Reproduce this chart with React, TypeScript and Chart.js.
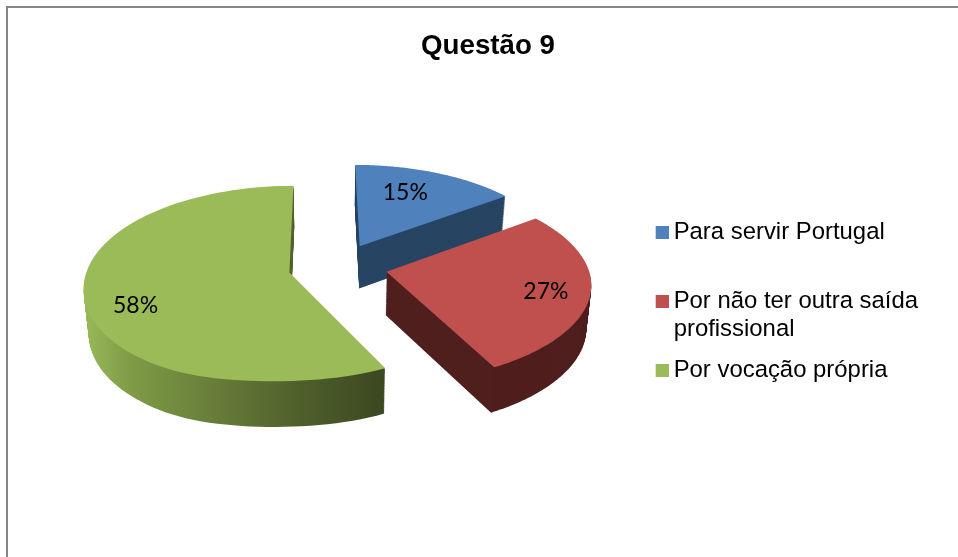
import React, { useEffect, useRef } from "react";
import { Chart, registerables } from "chart.js";

Chart.register(...registerables);

const categories = ["Para servir Portugal", "Por não ter outra saída profissional", "Por vocação própria"];
const legendLines = [["Para servir Portugal", ""], ["Por não ter outra saída", "profissional"], ["Por vocação própria"]];
const shares = [15, 27, 58];
const faceColors = ["#4F81BD", "#C0504D", "#9BBB59"];
const wallColors = ["#284563", "#4F1F1E", "green"];
const labelReach = [0.62, 0.79, 0.78];
const labelNudge = [[-4, -6], [-1, 3], [5, 14]];

const KX = 1.092;
const KY = 0.52;
const PERSP = 0.1228;
const DEPTH = 43;
const SHIFT_X = -10.5;
const SHIFT_Y = -36.5;

function project(X: number, Y: number, cx: number, cy: number, R: number) {
  const w = 1 - PERSP * Y;
  const front = Math.max(0, Y - 0.92);
  return {
    x: cx + (R * KX * X) / w - (Y > 0 ? 9 : 1.5) * Y * Y,
    y: cy + (R * KY * Y) / w - 120 * front * front,
  };
}

const pie3d = {
  id: "pie3d",
  beforeDatasetsDraw(chart: any) {
    const ctx = chart.ctx;
    const arcs = chart.getDatasetMeta(0).data;
    arcs.forEach((arc: any, i: number) => {
      const R = arc.outerRadius;
      const cx = arc.x + SHIFT_X;
      const cy = arc.y + SHIFT_Y;
      const mid = (arc.startAngle + arc.endAngle) / 2;
      const d = arc.options.offset / 2 / R;
      const ox = Math.cos(mid) * d;
      const oy = Math.sin(mid) * d;
      const unit: [number, number][] = [[ox, oy]];
      const steps = 96;
      for (let s = 0; s <= steps; s++) {
        const a = arc.startAngle + ((arc.endAngle - arc.startAngle) * s) / steps;
        unit.push([ox + Math.cos(a), oy + Math.sin(a)]);
      }
      const pts = unit.map(([X, Y]) => ({ ...project(X, Y, cx, cy, R), Y }));
      const path = (t: number) => {
        ctx.beginPath();
        pts.forEach((p, k) => {
          const h = (DEPTH + 2.5 * p.Y) * t;
          const x = cx + (p.x - cx) * (1 - 0.02 * t);
          if (k === 0) ctx.moveTo(x, p.y + h);
          else ctx.lineTo(x, p.y + h);
        });
        ctx.closePath();
      };
      let wall: any = wallColors[i];
      if (wall === "green") {
        const g = ctx.createLinearGradient(82, 0, 384, 0);
        g.addColorStop(0, "#9BBB59");
        g.addColorStop(0.16, "#7F9B46");
        g.addColorStop(0.72, "#4F5F2C");
        g.addColorStop(1, "#3B4820");
        wall = g;
      }
      ctx.save();
      ctx.fillStyle = wall;
      for (let t = 1; t > 0; t -= 0.02) {
        path(t);
        ctx.fill();
      }
      ctx.fillStyle = arc.options.backgroundColor;
      path(0);
      ctx.fill();
      ctx.restore();
    });
    arcs.forEach((arc: any, i: number) => {
      const R = arc.outerRadius;
      const mid = (arc.startAngle + arc.endAngle) / 2;
      const d = arc.options.offset / 2 / R + labelReach[i];
      const p = project(Math.cos(mid) * d, Math.sin(mid) * d, arc.x + SHIFT_X, arc.y + SHIFT_Y, R);
      ctx.save();
      ctx.fillStyle = "#000";
      ctx.font = "23px Lato";
      ctx.textAlign = "center";
      ctx.textBaseline = "middle";
      ctx.fillText(`${shares[i]}%`, p.x + labelNudge[i][0], p.y + labelNudge[i][1]);
      ctx.restore();
    });
    return false;
  },
};

function swatch(color: string) {
  const c = document.createElement("canvas");
  c.width = 14;
  c.height = 13;
  const g = c.getContext("2d")!;
  g.fillStyle = color;
  g.fillRect(1, 0, 13, 13);
  return c;
}

export default function App() {
  const ref = useRef<HTMLCanvasElement>(null);
  useEffect(() => {
    const chart = new Chart(ref.current!, {
      type: "pie",
      data: {
        labels: categories,
        datasets: [{ data: shares, backgroundColor: faceColors, borderWidth: 0, offset: 90.8 }],
      },
      plugins: [pie3d],
      options: {
        responsive: false,
        animation: false,
        events: [],
        layout: { padding: { left: 48, right: 30, top: 0, bottom: 24 } },
        plugins: {
          tooltip: { enabled: false },
          title: {
            display: true,
            text: "Questão 9",
            color: "#000",
            font: { family: "Liberation Sans", size: 27.7, weight: "bold", lineHeight: 1.2 },
            padding: { top: 30, bottom: 10 },
          },
          legend: {
            position: "right",
            fullSize: false,
            labels: {
              color: "#000",
              font: { family: "Liberation Sans", size: 23.9, lineHeight: 28 / 23.9 },
              usePointStyle: true,
              pointStyleWidth: 0.1,
              boxHeight: 13,
              padding: 13,
              generateLabels: () =>
                categories.map((_, i) => ({
                  text: legendLines[i],
                  fillStyle: faceColors[i],
                  strokeStyle: faceColors[i],
                  lineWidth: 0,
                  pointStyle: swatch(faceColors[i]),
                  hidden: false,
                  index: i,
                })) as any,
            },
          },
        },
      } as any,
    });
    return () => chart.destroy();
  }, []);
  return (
    <div style={{ position: "fixed", left: 0, top: 0, width: 958, height: 557, overflow: "hidden", background: "#fff" }}>
      <div style={{ position: "absolute", left: 6, top: 6, width: 1000, height: 600, borderLeft: "2px solid #868686", borderTop: "2px solid #868686" }} />
      <canvas ref={ref} width={958} height={557} style={{ position: "absolute", left: 0, top: 0 }} />
    </div>
  );
}
